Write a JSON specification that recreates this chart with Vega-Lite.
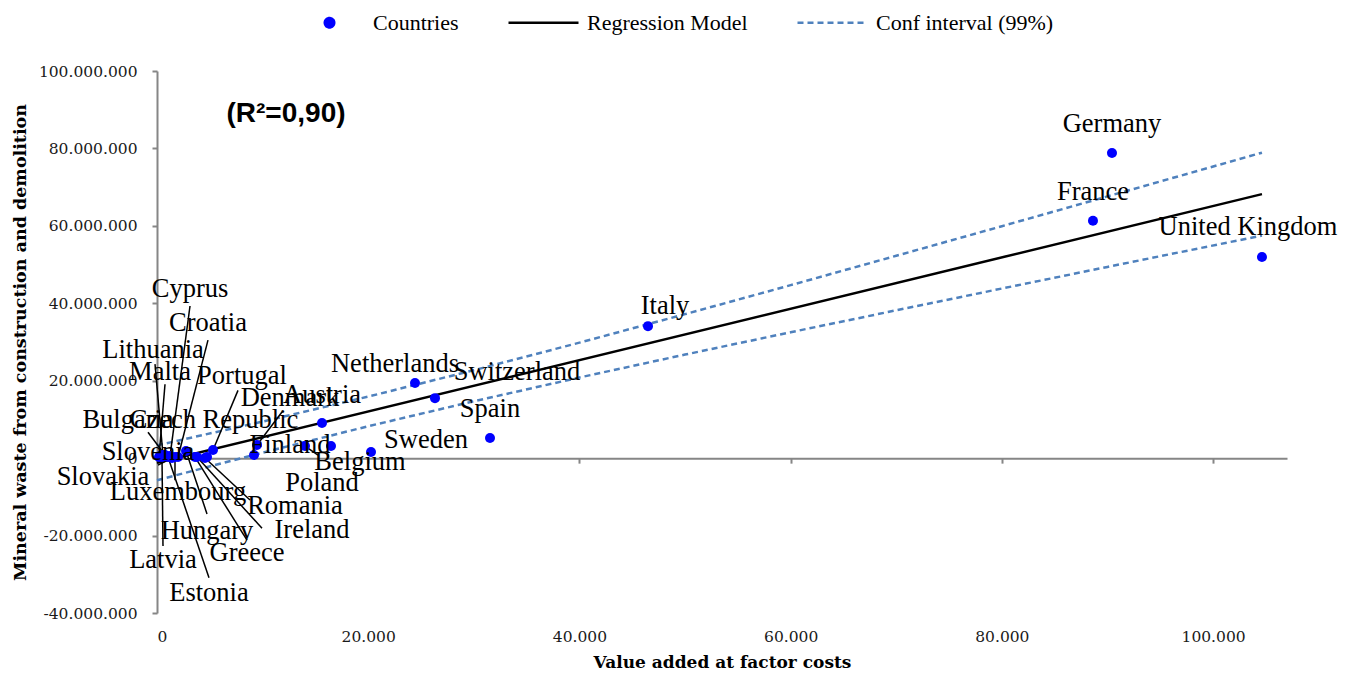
{
  "$schema": "https://vega.github.io/schema/vega-lite/v6.json",
  "width": 1130,
  "height": 542,
  "autosize": {"type": "none"},
  "padding": {"left": 157, "top": 71, "right": 70, "bottom": 65},
  "background": "white",
  "config": {
    "view": {"stroke": null},
    "locale": {"number": {"decimal": ",", "thousands": ".", "grouping": [3], "currency": ["", " €"], "minus": "-"}},
    "axis": {
      "grid": false,
      "domainColor": "#868686",
      "domainWidth": 2,
      "tickColor": "#868686",
      "tickWidth": 2,
      "tickSize": 5,
      "labelFont": "DejaVu Serif",
      "labelFontSize": 15.5,
      "labelColor": "#1a1a1a",
      "titleFont": "DejaVu Serif",
      "titleFontWeight": "bold",
      "titleColor": "#000000"
    }
  },
  "datasets": {
    "countries": [
      {"country": "Germany", "x": 90427, "y": 78800000, "lx": 90427, "ly": 86300000},
      {"country": "France", "x": 88628, "y": 61300000, "lx": 88628, "ly": 68700000},
      {"country": "United Kingdom", "x": 104630, "y": 51950000, "lx": 103305, "ly": 59700000},
      {"country": "Italy", "x": 46492, "y": 34100000, "lx": 48101, "ly": 39300000},
      {"country": "Netherlands", "x": 24430, "y": 19400000, "lx": 22536, "ly": 24300000},
      {"country": "Switzerland", "x": 26323, "y": 15500000, "lx": 34088, "ly": 22200000},
      {"country": "Spain", "x": 31531, "y": 5190000, "lx": 31531, "ly": 12700000},
      {"country": "Sweden", "x": 20263, "y": 1580000, "lx": 25471, "ly": 4700000},
      {"country": "Austria", "x": 15624, "y": 9070000, "lx": 15624, "ly": 16300000},
      {"country": "Belgium", "x": 14014, "y": 3130000, "lx": 19222, "ly": -1000000, "ax": 15245, "ay": 800000},
      {"country": "Poland", "x": 16476, "y": 3130000, "lx": 15624, "ly": -6400000},
      {"country": "Denmark", "x": 9469, "y": 3400000, "lx": 12593, "ly": 15500000, "ax": 11836, "ay": 11900000},
      {"country": "Finland", "x": 9185, "y": 800000, "lx": 12593, "ly": 3400000},
      {"country": "Czech Republic", "x": 4734, "y": 280000, "lx": 5397, "ly": 9840000},
      {"country": "Portugal", "x": 5303, "y": 2090000, "lx": 8049, "ly": 21200000, "ax": 7670, "ay": 17500000},
      {"country": "Romania", "x": 4545, "y": 30000, "lx": 13067, "ly": -12400000, "ax": 8806, "ay": -10800000},
      {"country": "Ireland", "x": 3788, "y": 280000, "lx": 14677, "ly": -18600000, "ax": 9942, "ay": -18100000},
      {"country": "Greece", "x": 3598, "y": 280000, "lx": 8522, "ly": -24500000, "ax": 8522, "ay": -21200000},
      {"country": "Hungary", "x": 2746, "y": 1830000, "lx": 4734, "ly": -18800000, "ax": 4734, "ay": -14400000},
      {"country": "Croatia", "x": 1989, "y": 280000, "lx": 4829, "ly": 34900000, "ax": 4829, "ay": 30500000},
      {"country": "Luxembourg", "x": 1704, "y": 280000, "lx": 1988, "ly": -8800000, "ax": 1704, "ay": -5700000},
      {"country": "Slovakia", "x": 1420, "y": 30000, "lx": -5113, "ly": -4900000, "ax": 95, "ay": -1800000},
      {"country": "Cyprus", "x": 1231, "y": 540000, "lx": 3125, "ly": 43700000, "ax": 3125, "ay": 39300000},
      {"country": "Estonia", "x": 1041, "y": 280000, "lx": 4924, "ly": -34900000, "ax": 4924, "ay": -30900000},
      {"country": "Bulgaria", "x": 757, "y": 800000, "lx": -2746, "ly": 9840000, "ax": -852, "ay": 6700000},
      {"country": "Lithuania", "x": 568, "y": 800000, "lx": -379, "ly": 28000000, "ax": -189, "ay": 24300000},
      {"country": "Latvia", "x": 473, "y": 280000, "lx": 568, "ly": -26400000, "ax": 568, "ay": -22700000},
      {"country": "Slovenia", "x": 284, "y": 540000, "lx": -852, "ly": 1600000},
      {"country": "Malta", "x": 189, "y": 280000, "lx": 284, "ly": 22200000, "ax": 757, "ay": 19100000}
    ],
    "lines": [
      {"series": "Regression Model", "line": "reg", "x": 0, "y": -1200000},
      {"series": "Regression Model", "line": "reg", "x": 104630, "y": 68200000},
      {"series": "Conf interval (99%)", "line": "upper", "x": 0, "y": 3300000},
      {"series": "Conf interval (99%)", "line": "upper", "x": 10000, "y": 9440000},
      {"series": "Conf interval (99%)", "line": "upper", "x": 20000, "y": 15900000},
      {"series": "Conf interval (99%)", "line": "upper", "x": 30000, "y": 22710000},
      {"series": "Conf interval (99%)", "line": "upper", "x": 40000, "y": 29830000},
      {"series": "Conf interval (99%)", "line": "upper", "x": 50000, "y": 37190000},
      {"series": "Conf interval (99%)", "line": "upper", "x": 60000, "y": 44680000},
      {"series": "Conf interval (99%)", "line": "upper", "x": 70000, "y": 52270000},
      {"series": "Conf interval (99%)", "line": "upper", "x": 80000, "y": 59910000},
      {"series": "Conf interval (99%)", "line": "upper", "x": 90000, "y": 67610000},
      {"series": "Conf interval (99%)", "line": "upper", "x": 104630, "y": 78900000},
      {"series": "Conf interval (99%)", "line": "lower", "x": 0, "y": -5700000},
      {"series": "Conf interval (99%)", "line": "lower", "x": 10000, "y": 1420000},
      {"series": "Conf interval (99%)", "line": "lower", "x": 20000, "y": 8240000},
      {"series": "Conf interval (99%)", "line": "lower", "x": 30000, "y": 14690000},
      {"series": "Conf interval (99%)", "line": "lower", "x": 40000, "y": 20830000},
      {"series": "Conf interval (99%)", "line": "lower", "x": 50000, "y": 26750000},
      {"series": "Conf interval (99%)", "line": "lower", "x": 60000, "y": 32520000},
      {"series": "Conf interval (99%)", "line": "lower", "x": 70000, "y": 38190000},
      {"series": "Conf interval (99%)", "line": "lower", "x": 80000, "y": 43810000},
      {"series": "Conf interval (99%)", "line": "lower", "x": 90000, "y": 49390000},
      {"series": "Conf interval (99%)", "line": "lower", "x": 104630, "y": 57500000}
    ],
    "annot": [
      {"label": "(R²=0,90)", "x": 12215, "y": 88900000}
    ]
  },
  "layer": [
    {
      "data": {"name": "lines"},
      "transform": [{"filter": "datum.series === 'Conf interval (99%)'"}],
      "mark": {"type": "line", "strokeWidth": 2.5, "strokeDash": [6, 4]},
      "encoding": {
        "x": {
          "field": "x", "type": "quantitative",
          "scale": {"domain": [0, 107000], "nice": false, "zero": false},
          "axis": {"orient": "bottom", "offset": -154.86, "labels": false, "title": null, "values": [0, 20000, 40000, 60000, 80000, 100000], "domain": true, "ticks": true, "tickSize": 5}
        },
        "y": {
          "field": "y", "type": "quantitative",
          "scale": {"domain": [-40000000, 100000000], "nice": false, "zero": false},
          "title": "Mineral waste from construction and demolition"
        },
        "color": {
          "field": "series", "type": "nominal",
          "scale": {"domain": ["Countries", "Regression Model", "Conf interval (99%)"], "range": ["#0000ff", "#000000", "#4f81bd"]},
          "legend": {
            "orient": "none",
            "legendX": 136,
            "legendY": -85,
            "direction": "horizontal",
            "title": null,
            "padding": 0,
            "symbolSize": 4900,
            "symbolStrokeWidth": 2.5,
            "labelFont": "Liberation Serif",
            "labelFontSize": 22,
            "labelColor": "#000000",
            "labelOffset": 7,
            "labelLimit": 400,
            "columnPadding": 44,
            "encode": {
              "symbols": {
                "update": {
                  "shape": {"signal": "datum.value === 'Countries' ? 'circle' : 'stroke'"},
                  "size": {"signal": "datum.value === 'Countries' ? 90 : 4900"},
                  "fill": {"signal": "datum.value === 'Countries' ? '#0000ff' : 'transparent'"},
                  "stroke": {"signal": "datum.value === 'Countries' ? 'transparent' : (datum.value === 'Regression Model' ? '#000000' : '#4f81bd')"},
                  "strokeWidth": {"value": 2.5},
                  "strokeDash": {"signal": "datum.value === 'Conf interval (99%)' ? [6, 4] : [1, 0]"},
                  "opacity": {"value": 1}
                }
              }
            }
          }
        },
        "detail": {"field": "line", "type": "nominal"}
      }
    },
    {
      "data": {"name": "lines"},
      "transform": [{"filter": "datum.series === 'Regression Model'"}],
      "mark": {"type": "line", "strokeWidth": 2.5},
      "encoding": {
        "x": {"field": "x", "type": "quantitative", "scale": {"domain": [0, 107000], "nice": false, "zero": false}, "axis": null},
        "y": {"field": "y", "type": "quantitative", "scale": {"domain": [-40000000, 100000000], "nice": false, "zero": false}, "title": "Mineral waste from construction and demolition"},
        "color": {"field": "series", "type": "nominal", "scale": {"domain": ["Countries", "Regression Model", "Conf interval (99%)"], "range": ["#0000ff", "#000000", "#4f81bd"]}},
        "detail": {"field": "line", "type": "nominal"}
      }
    },
    {
      "data": {"name": "countries"},
      "transform": [{"filter": "isValid(datum.ax)"}],
      "mark": {"type": "rule", "color": "#000000", "strokeWidth": 1.5},
      "encoding": {
        "x": {"field": "x", "type": "quantitative", "scale": {"domain": [0, 107000], "nice": false, "zero": false}, "axis": null},
        "y": {"field": "y", "type": "quantitative", "scale": {"domain": [-40000000, 100000000], "nice": false, "zero": false}, "title": "Mineral waste from construction and demolition"},
        "x2": {"field": "ax"},
        "y2": {"field": "ay"}
      }
    },
    {
      "data": {"name": "countries"},
      "mark": {"type": "circle", "size": 100, "opacity": 1},
      "encoding": {
        "x": {
          "field": "x", "type": "quantitative",
          "scale": {"domain": [0, 107000], "nice": false, "zero": false},
          "axis": {"orient": "bottom", "title": "Value added at factor costs", "titleFontSize": 17, "titlePadding": 10, "domain": false, "ticks": false, "values": [0, 20000, 40000, 60000, 80000, 100000], "format": ",d", "labelPadding": 16}
        },
        "y": {
          "field": "y", "type": "quantitative",
          "scale": {"domain": [-40000000, 100000000], "nice": false, "zero": false},
          "axis": {"title": "Mineral waste from construction and demolition", "titleFontSize": 17.5, "titlePadding": 9, "values": [-40000000, -20000000, 0, 20000000, 40000000, 60000000, 80000000, 100000000], "format": ",d", "labelPadding": 15}
        },
        "color": {"datum": "Countries", "type": "nominal", "scale": {"domain": ["Countries", "Regression Model", "Conf interval (99%)"], "range": ["#0000ff", "#000000", "#4f81bd"]}}
      }
    },
    {
      "data": {"name": "countries"},
      "mark": {"type": "text", "font": "Liberation Serif", "fontSize": 26.5, "color": "#000000", "align": "center", "baseline": "middle"},
      "encoding": {
        "x": {"field": "lx", "type": "quantitative", "scale": {"domain": [0, 107000], "nice": false, "zero": false}, "axis": null},
        "y": {"field": "ly", "type": "quantitative", "scale": {"domain": [-40000000, 100000000], "nice": false, "zero": false}, "title": "Mineral waste from construction and demolition"},
        "text": {"field": "country"}
      }
    },
    {
      "data": {"name": "annot"},
      "mark": {"type": "text", "font": "Liberation Sans", "fontWeight": "bold", "fontSize": 28, "color": "#000000", "align": "center", "baseline": "middle"},
      "encoding": {
        "x": {"field": "x", "type": "quantitative", "scale": {"domain": [0, 107000], "nice": false, "zero": false}, "axis": null},
        "y": {"field": "y", "type": "quantitative", "scale": {"domain": [-40000000, 100000000], "nice": false, "zero": false}, "title": "Mineral waste from construction and demolition"},
        "text": {"field": "label"}
      }
    }
  ],
  "resolve": {"axis": {"x": "independent"}}
}
